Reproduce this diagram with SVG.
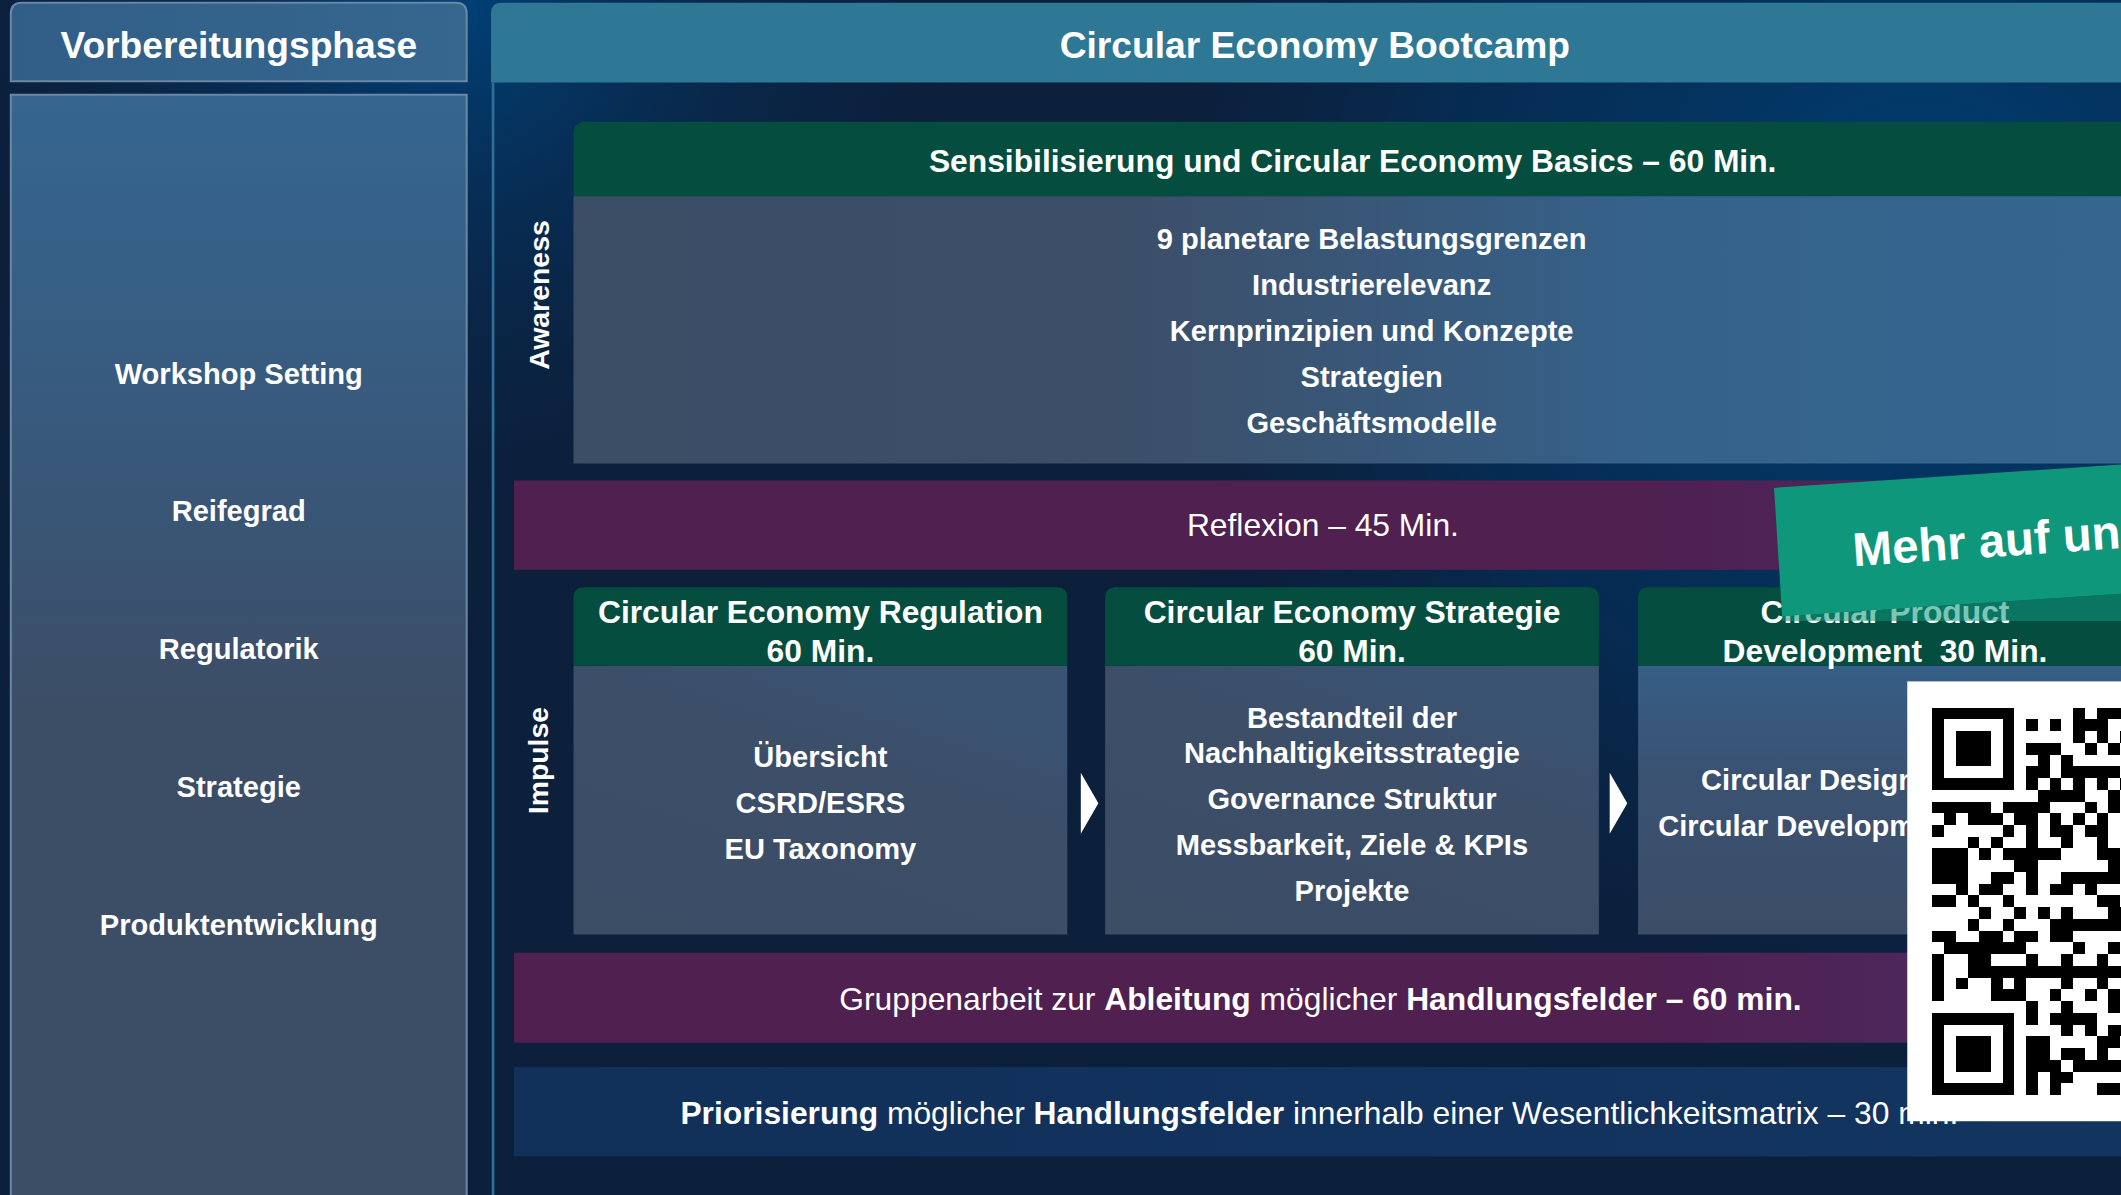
<svg xmlns="http://www.w3.org/2000/svg" width="2121" height="1195" viewBox="0 0 2121 1195">
<defs>
<style>
text{font-family:"Liberation Sans",Arial,sans-serif;fill:#ffffff}
.b{font-weight:bold}
.t1{font-size:27.5px;font-weight:bold}
.h{font-size:23.5px;font-weight:bold}
.li{font-size:21.5px;font-weight:bold}
.side{font-size:21px;font-weight:bold}
.band{font-size:23.5px}
.green{fill:#054d3e}
.cell{fill:url(#gBox)}
.purple{fill:url(#gPurple)}
.arrow{fill:#ffffff}
</style>
<radialGradient id="glowR" cx="1420" cy="180" r="620" gradientUnits="userSpaceOnUse">
<stop offset="0" stop-color="#003f73"/><stop offset="0.6" stop-color="#03325f" stop-opacity="0.6"/><stop offset="1" stop-color="#0c1f3b" stop-opacity="0"/>
</radialGradient>
<radialGradient id="glowL" cx="330" cy="0" r="420" gradientUnits="userSpaceOnUse">
<stop offset="0" stop-color="#00427a"/><stop offset="1" stop-color="#0c1f3b" stop-opacity="0"/>
</radialGradient>
<linearGradient id="gLeftBody" x1="0" y1="0" x2="0" y2="1">
<stop offset="0" stop-color="#356690"/><stop offset="0.3" stop-color="#38597c"/><stop offset="0.55" stop-color="#3c4d66"/><stop offset="1" stop-color="#3c4d66"/>
</linearGradient>
<linearGradient id="gLeftHead" x1="0" y1="0" x2="1" y2="0">
<stop offset="0" stop-color="#315e87"/><stop offset="1" stop-color="#35678f"/>
</linearGradient>
<linearGradient id="gAware" x1="0" y1="0" x2="1" y2="0">
<stop offset="0" stop-color="#3c4d66"/><stop offset="0.35" stop-color="#3c4e68"/><stop offset="0.7" stop-color="#35628b"/><stop offset="1" stop-color="#34668f"/>
</linearGradient>
<linearGradient id="gBox" x1="0" y1="1" x2="0.6" y2="0">
<stop offset="0" stop-color="#3c4d66"/><stop offset="0.7" stop-color="#3c4e68"/><stop offset="1" stop-color="#3a5373"/>
</linearGradient>
<linearGradient id="gBox3" x1="0" y1="1" x2="0" y2="0">
<stop offset="0" stop-color="#3c4d66"/><stop offset="0.6" stop-color="#3a5272"/><stop offset="1" stop-color="#365e86"/>
</linearGradient>
<linearGradient id="gPurple" x1="0" y1="0" x2="1" y2="0">
<stop offset="0" stop-color="#4f2050"/><stop offset="0.7" stop-color="#4f2050"/><stop offset="1" stop-color="#4b2b64"/>
</linearGradient>
<linearGradient id="gPrio" x1="0" y1="0" x2="1" y2="0">
<stop offset="0" stop-color="#11305a"/><stop offset="1" stop-color="#123560"/>
</linearGradient>
</defs>

<g transform="scale(1.35268 1.35334)">
<!-- background -->
<rect x="0" y="0" width="1570" height="885" fill="#0c1f3b"/>
<rect x="0" y="0" width="1570" height="885" fill="url(#glowR)"/>
<rect x="0" y="0" width="1570" height="885" fill="url(#glowL)"/>

<!-- left column -->
<g id="vorbereitung-header">
<path d="M8,60 V10 Q8,2 16,2 H337 Q345,2 345,10 V60 Z" fill="url(#gLeftHead)" stroke="#6a87a4" stroke-width="1.5"/>
<text class="t1" x="176.5" y="43" text-anchor="middle">Vorbereitungsphase</text>
</g>
<g id="vorbereitung-body">
<rect x="8" y="70" width="337" height="830" fill="url(#gLeftBody)" stroke="#6a87a4" stroke-width="1.5"/>
<text class="li" x="176.5" y="283.7" text-anchor="middle">Workshop Setting</text>
<text class="li" x="176.5" y="384.7" text-anchor="middle">Reifegrad</text>
<text class="li" x="176.5" y="486.7" text-anchor="middle">Regulatorik</text>
<text class="li" x="176.5" y="588.7" text-anchor="middle">Strategie</text>
<text class="li" x="176.5" y="690.7" text-anchor="middle">Produktentwicklung</text>
</g>

<!-- main panel -->
<g id="bootcamp-header">
<path d="M363,61 V10 Q363,2 371,2 H1570 V61 Z" fill="#2e7896"/>
<text class="t1" x="972" y="43" text-anchor="middle">Circular Economy Bootcamp</text>
</g>
<line x1="364.5" y1="61" x2="364.5" y2="885" stroke="#2d6f96" stroke-width="2"/>

<g id="label-awareness">
<text class="side" transform="translate(405.5,218) rotate(-90)" text-anchor="middle">Awareness</text>
</g>
<g id="label-impulse">
<text class="side" transform="translate(405.3,562) rotate(-90)" text-anchor="middle">Impulse</text>
</g>

<g id="awareness">
<path d="M424,145 V99 Q424,90 433,90 H1570 V145 Z" class="green"/>
<rect x="424" y="145" width="1146" height="197.5" fill="url(#gAware)"/>
<text class="h" x="1000" y="127.4" text-anchor="middle">Sensibilisierung und Circular Economy Basics – 60 Min.</text>
<text class="li" x="1014" y="183.7" text-anchor="middle">9 planetare Belastungsgrenzen</text>
<text class="li" x="1014" y="217.7" text-anchor="middle">Industrierelevanz</text>
<text class="li" x="1014" y="251.7" text-anchor="middle">Kernprinzipien und Konzepte</text>
<text class="li" x="1014" y="285.7" text-anchor="middle">Strategien</text>
<text class="li" x="1014" y="319.7" text-anchor="middle">Geschäftsmodelle</text>
</g>

<g id="reflexion">
<rect x="380" y="355" width="1190" height="66" class="purple"/>
<text class="band" x="978" y="396.4" text-anchor="middle">Reflexion – 45 Min.</text>
</g>

<g id="regulation">
<path d="M424,492 V442 Q424,434 432,434 H781 Q789,434 789,442 V492 Z" class="green"/>
<rect x="424" y="492" width="365" height="198.5" class="cell"/>
<text class="h" x="606.5" y="460.4" text-anchor="middle">Circular Economy Regulation</text>
<text class="h" x="606.5" y="489.4" text-anchor="middle">60 Min.</text>
<text class="li" x="606.5" y="566.7" text-anchor="middle">Übersicht</text>
<text class="li" x="606.5" y="600.7" text-anchor="middle">CSRD/ESRS</text>
<text class="li" x="606.5" y="634.7" text-anchor="middle">EU Taxonomy</text>
</g>

<g id="strategie">
<path d="M817,492 V442 Q817,434 825,434 H1174 Q1182,434 1182,442 V492 Z" class="green"/>
<rect x="817" y="492" width="365" height="198.5" class="cell"/>
<text class="h" x="999.5" y="460.4" text-anchor="middle">Circular Economy Strategie</text>
<text class="h" x="999.5" y="489.4" text-anchor="middle">60 Min.</text>
<text class="li" x="999.5" y="537.7" text-anchor="middle">Bestandteil der</text>
<text class="li" x="999.5" y="563.7" text-anchor="middle">Nachhaltigkeitsstrategie</text>
<text class="li" x="999.5" y="597.7" text-anchor="middle">Governance Struktur</text>
<text class="li" x="999.5" y="631.7" text-anchor="middle">Messbarkeit, Ziele &amp; KPIs</text>
<text class="li" x="999.5" y="665.7" text-anchor="middle">Projekte</text>
</g>

<g id="product">
<path d="M1211,492 V442 Q1211,434 1219,434 H1580 V492 Z" class="green"/>
<rect x="1211" y="492" width="369" height="198.5" fill="url(#gBox3)"/>
<text class="h" x="1393.5" y="460.4" text-anchor="middle">Circular Product</text>
<text class="h" x="1393.5" y="489.4" text-anchor="middle" style="white-space:pre">Development  30 Min.</text>
<text class="li" x="1337" y="583.7" text-anchor="middle">Circular Design</text>
<text class="li" x="1337" y="617.7" text-anchor="middle">Circular Development</text>
</g>

<g id="connectors">
<polygon class="arrow" points="799,571 812,593.5 799,616"/>
<polygon class="arrow" points="1190,571 1203,593.5 1190,616"/>
</g>

<g id="gruppenarbeit">
<rect x="380" y="704" width="1190" height="66.5" class="purple"/>
<text class="band" x="620.5" y="746.4">Gruppenarbeit zur <tspan class="b">Ableitung</tspan> möglicher <tspan class="b">Handlungsfelder – 60 min.</tspan></text>
</g>

<g id="priorisierung">
<rect x="380" y="788.5" width="1190" height="66" fill="url(#gPrio)"/>
<text class="band" x="503" y="830.4"><tspan class="b">Priorisierung</tspan> möglicher <tspan class="b">Handlungsfelder</tspan> innerhalb einer Wesentlichkeitsmatrix – 30 min.</text>
</g>

<!-- banner -->
<g id="banner">
<polygon points="1317.5,455.5 1600,436.5 1600,458.8 1317.5,458.8" fill="#0e977b" fill-opacity="0.55"/>
<polygon points="1311.5,360.5 1600,341 1600,436.5 1317.5,455.5" fill="#0e977b"/>
<text class="b" font-size="35" transform="translate(1370.5,418.4) rotate(-3.87)">Mehr auf un</text>
</g>

<!-- QR code -->
<g id="qr">
<rect x="1410" y="503.5" width="200" height="325" fill="#ffffff"/>
<g transform="translate(1428.5,522.8) scale(8.68)" fill="#000000" shape-rendering="crispEdges">
<path d="M0 0h7v7h-7z M1 1v5h5v-5z" fill-rule="evenodd"/>
<rect x="2" y="2" width="3" height="3"/>
<path d="M0 26h7v7h-7z M1 27v5h5v-5z" fill-rule="evenodd"/>
<rect x="2" y="28" width="3" height="3"/>
<path d="M12 0h1v1h-1z M14 0h3v1h-3z
M8 1h1v1h-1z M10 1h1v1h-1z M12 1h3v1h-3z
M12 2h1v1h-1z M14 2h1v1h-1z M16 2h1v1h-1z
M8 3h3v1h-3z M13 3h1v1h-1z M15 3h1v1h-1z
M9 4h1v1h-1z M11 4h1v1h-1z
M8 5h2v1h-2z M11 5h5v1h-5z
M8 6h1v1h-1z M10 6h1v1h-1z M12 6h1v1h-1z M14 6h1v1h-1z M16 6h1v1h-1z
M9 7h4v1h-4z M15 7h1v1h-1z
M0 8h5v1h-5z M6 8h4v1h-4z M13 8h1v1h-1z M15 8h1v1h-1z
M1 9h1v1h-1z M3 9h3v1h-3z M7 9h2v1h-2z M10 9h1v1h-1z M12 9h1v1h-1z M14 9h1v1h-1z
M0 10h1v1h-1z M6 10h1v1h-1z M8 10h1v1h-1z M10 10h2v1h-2z M13 10h2v1h-2z
M3 11h1v1h-1z M5 11h1v1h-1z M8 11h1v1h-1z M11 11h1v1h-1z M14 11h1v1h-1z
M0 12h3v1h-3z M4 12h1v1h-1z M6 12h5v1h-5z M14 12h2v1h-2z
M0 13h3v1h-3z M7 13h2v1h-2z M15 13h1v1h-1z
M0 14h3v1h-3z M5 14h2v1h-2z M8 14h1v1h-1z M11 14h5v1h-5z
M2 15h1v1h-1z M4 15h2v1h-2z M8 15h1v1h-1z M10 15h2v1h-2z M13 15h1v1h-1z
M0 16h2v1h-2z M3 16h1v1h-1z M6 16h1v1h-1z M14 16h2v1h-2z
M4 17h1v1h-1z M7 17h1v1h-1z M9 17h1v1h-1z M11 17h1v1h-1z M15 17h2v1h-2z
M3 18h1v1h-1z M6 18h1v1h-1z M10 18h7v1h-7z
M0 19h2v1h-2z M4 19h2v1h-2z M7 19h2v1h-2z M10 19h2v1h-2z
M1 20h7v1h-7z M12 20h1v1h-1z M15 20h1v1h-1z
M0 21h1v1h-1z M3 21h2v1h-2z M8 21h1v1h-1z M11 21h1v1h-1z M14 21h1v1h-1z
M0 22h1v1h-1z M3 22h14v1h-14z
M0 23h1v1h-1z M2 23h1v1h-1z M5 23h1v1h-1z M7 23h1v1h-1z M11 23h1v1h-1z M14 23h1v1h-1z
M0 24h1v1h-1z M5 24h3v1h-3z M10 24h1v1h-1z M13 24h1v1h-1z M15 24h1v1h-1z
M8 25h1v1h-1z M11 25h1v1h-1z M15 25h1v1h-1z
M8 26h1v1h-1z M10 26h4v1h-4z
M11 27h1v1h-1z M13 27h1v1h-1z M15 27h2v1h-2z
M8 28h2v1h-2z M14 28h2v1h-2z
M8 29h2v1h-2z M11 29h2v1h-2z M14 29h1v1h-1z
M8 30h3v1h-3z M12 30h5v1h-5z
M8 31h1v1h-1z M10 31h2v1h-2z
M8 32h1v1h-1z M10 32h1v1h-1z M14 32h2v1h-2z"/>
</g>
</g>
</g>
</svg>
